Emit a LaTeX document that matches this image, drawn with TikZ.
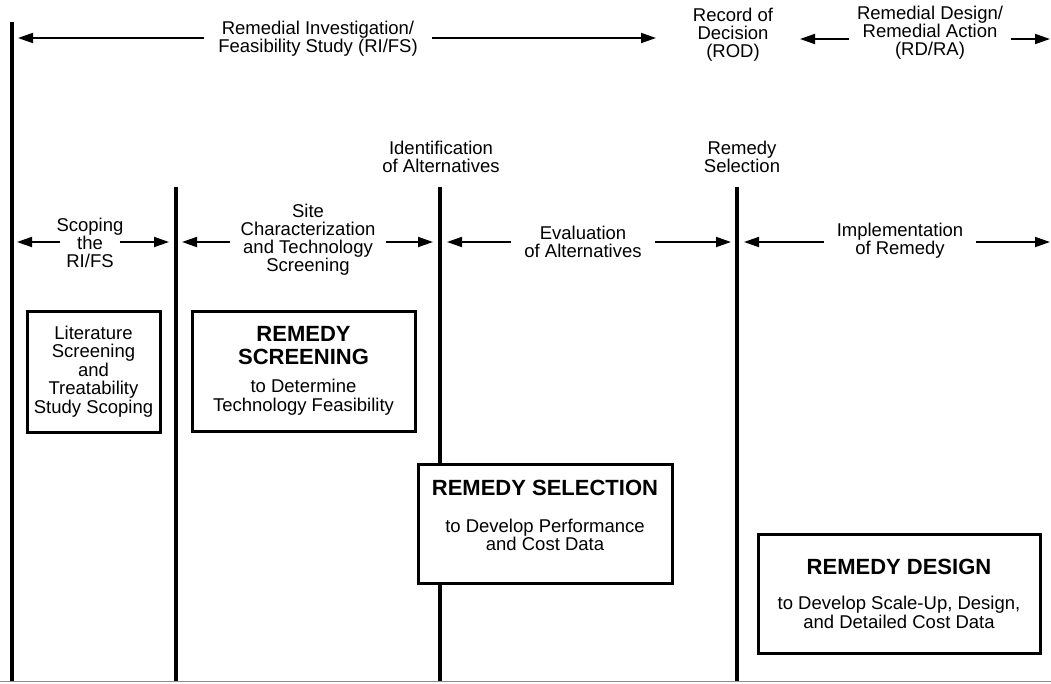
\documentclass[tikz,border=0pt]{standalone}
\usepackage{fontspec}
\setmainfont{Liberation Sans}
\usepackage{tikz}
\usetikzlibrary{arrows.meta,positioning}
\newcommand{\boxhead}{\fontsize{22}{23}\selectfont\bfseries}
\newcommand{\boxtext}{\fontsize{18.5}{18.5}\selectfont\mdseries}

\begin{document}
\begin{tikzpicture}[x=1pt, y=-1pt,
  bar/.style={line width=4pt},
  span/.style={line width=1.8pt, -{Triangle[length=15pt,width=10pt]}},
  phase/.style={font=\fontsize{18.5}{18}\selectfont, align=center, inner ysep=0pt, inner xsep=12pt},
  stagebox/.style={draw, fill=white, line width=3pt, align=center, inner sep=0pt, font=\boxtext}
]
\useasboundingbox (0,0) rectangle (1051,683);
\draw[black!45, line width=0.8pt] (0,681) -- (1051,681);
% Bars
\draw[bar] (12,22) -- (12,681);
\foreach \x in {176, 440, 737} {
  \draw[bar] (\x,187) -- (\x,681);
}
% Row 0
\node[phase, inner xsep=14pt] (rifs) at (318,39) {Remedial Investigation/\\Feasibility Study (RI/FS)};
\node[phase] (rod) at (733,35) {Record of\\Decision\\(ROD)};
\node[phase, inner xsep=8pt] (rdra) at (930,33) {Remedial Design/\\Remedial Action\\(RD/RA)};
\coordinate (rifsL) at (18,38);
\coordinate (rifsR) at (656,38);
\coordinate (rdraL) at (800,39);
\coordinate (rdraR) at (1050,39);
\draw[span] (rifs.west |- rifsL) -- (rifsL);
\draw[span] (rifs.east |- rifsR) -- (rifsR);
\draw[span] (rdra.west |- rdraL) -- (rdraL);
\draw[span] (rdra.east |- rdraR) -- (rdraR);
% Row 1
\node[phase] (ident) at (441,157) {Identification\\of Alternatives};
\node[phase] (remsel) at (742,157) {Remedy\\Selection};
% Row 2
\node[phase, inner xsep=-4pt] (scoping) at (90,243) {Scoping\\the\\RI/FS};
\node[phase, inner xsep=10pt] (sitechar) at (308,240) {Site\\Characterization\\and Technology\\Screening};
\node[phase, inner xsep=13pt] (evalalt) at (583,242) {Evaluation\\of Alternatives};
\node[phase, inner xsep=13pt] (implem) at (900,241) {Implementation\\of Remedy};
\foreach \n/\xl/\xr in {scoping/17/169, sitechar/182/433, evalalt/447/731, implem/744/1050} {
  \coordinate (\n L) at (\xl,242);
  \coordinate (\n R) at (\xr,242);
  \draw[span] (\n.west |- \n L) -- (\n L);
  \draw[span] (\n.east |- \n R) -- (\n R);
}
% Boxes
\node[stagebox, minimum width=133pt, minimum height=121pt] (litbox) at (93.5,371.5)
  {Literature\\Screening\\and\\Treatability\\Study Scoping};
\node[stagebox, minimum width=223pt, minimum height=120pt] (scrbox) at (303.5,371)
  {\boxhead REMEDY\\[4pt]\boxhead SCREENING\\[10pt]\boxtext to Determine\\\boxtext Technology Feasibility};
\node[stagebox, minimum width=254pt, minimum height=119pt, text depth=16pt] (selbox) at (545,523.5)
  {\boxhead REMEDY SELECTION\\[18pt]\boxtext to Develop Performance\\\boxtext and Cost Data};
\node[stagebox, minimum width=282pt, minimum height=119pt] (desbox) at (899,593.5)
  {\boxhead REMEDY DESIGN\\[17pt]\boxtext to Develop Scale-Up, Design,\\\boxtext and Detailed Cost Data};
\end{tikzpicture}
\end{document}
